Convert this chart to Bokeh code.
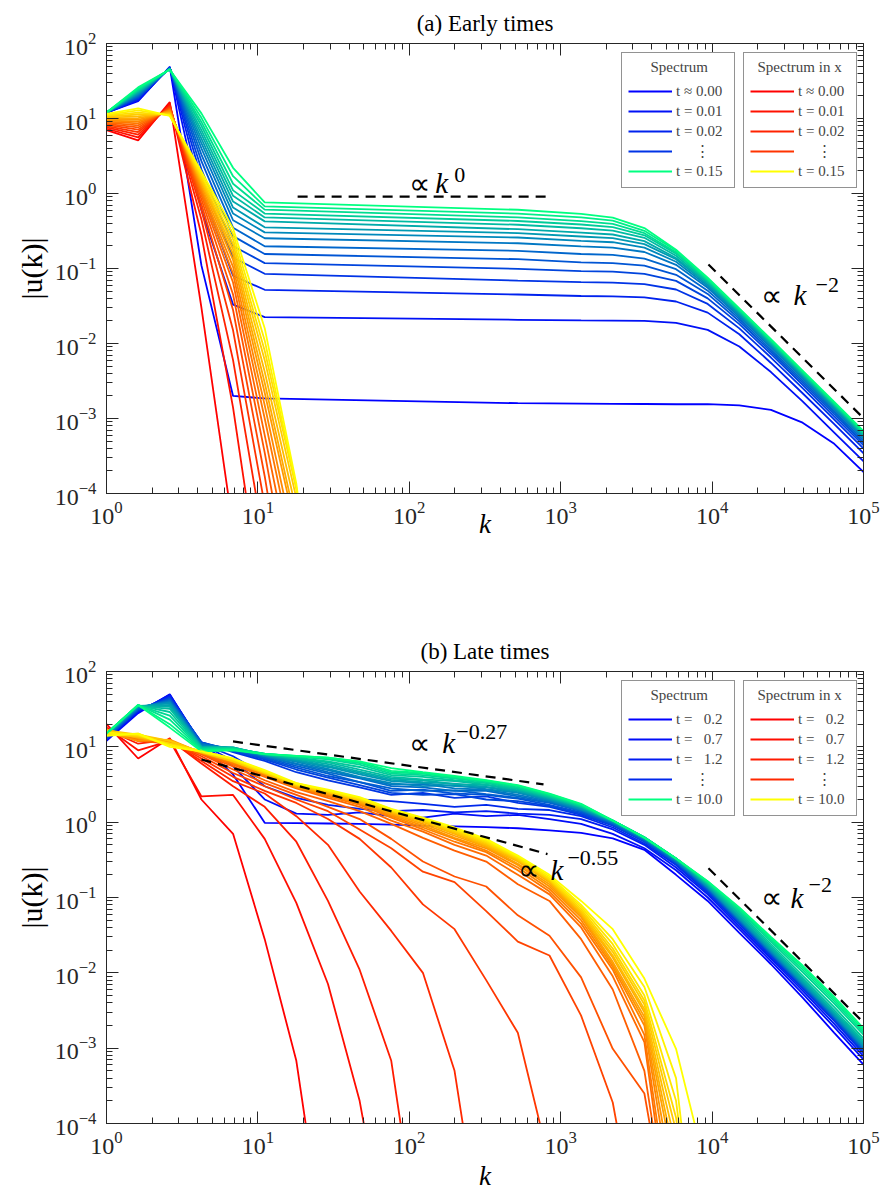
from bokeh.plotting import figure
from bokeh.models import Range1d, LogAxis, FixedTicker, Legend, LegendItem, Label
from bokeh.layouts import column
from bokeh.embed import file_html
from bokeh.resources import INLINE

# ---------------- data ----------------
# shell wavenumbers k_n (golden-ratio spacing)
K = [1.0, 1.618, 2.618, 4.236, 6.854, 11.09, 17.94, 29.03, 46.98, 76.01,
     123.0, 199.0, 322.0, 521.0, 843.0, 1364.0, 2207.0, 3571.0, 5778.0,
     9349.0, 15127.0, 24476.0, 39603.0, 64079.0, 103682.0]

# (a) early times, "Spectrum": values at shells A_BLUE_N, t = 0.00 ... 0.15
A_BLUE_N = [0, 1, 2, 3, 4, 5, 13, 15, 16, 17, 18, 19, 20, 21, 22, 23, 24]
A_BLUE = [
    [12, 17.0, 49.0, 0.11, 0.0020, 0.00185, 0.0016, 0.00158, 0.00157, 0.00156, 0.00155, 0.00155, 0.0015, 0.0013, 0.00088, 0.00046, 0.00018],
    [12, 17.5, 48.5, 0.6, 0.033, 0.0225, 0.0207, 0.0203, 0.0202, 0.0200, 0.0188, 0.0152, 0.0091, 0.00416, 0.00169, 0.00065, 0.00025],
    [12, 18.0, 48.0, 1.1, 0.08, 0.052, 0.045, 0.043, 0.0426, 0.0413, 0.0363, 0.0258, 0.0133, 0.0055, 0.00217, 0.00084, 0.00032],
    [12, 18.5, 47.7, 1.6, 0.14, 0.085, 0.069, 0.066, 0.065, 0.062, 0.0525, 0.0337, 0.0159, 0.0065, 0.00254, 0.00097, 0.00037],
    [12, 19.0, 47.4, 2.1, 0.20, 0.118, 0.099, 0.092, 0.091, 0.085, 0.0684, 0.0400, 0.0181, 0.00725, 0.00281, 0.00107, 0.00041],
    [12, 19.5, 47.1, 2.7, 0.27, 0.156, 0.133, 0.121, 0.118, 0.109, 0.0824, 0.0458, 0.0198, 0.0078, 0.00302, 0.00115, 0.00044],
    [12, 20.0, 46.8, 3.3, 0.35, 0.198, 0.172, 0.156, 0.152, 0.135, 0.098, 0.0506, 0.0213, 0.0083, 0.00322, 0.00123, 0.00047],
    [12, 20.6, 46.5, 4.0, 0.44, 0.253, 0.217, 0.197, 0.190, 0.166, 0.112, 0.0554, 0.0226, 0.0089, 0.00343, 0.00131, 0.00050],
    [12, 21.2, 46.2, 4.7, 0.54, 0.303, 0.259, 0.234, 0.224, 0.190, 0.123, 0.0583, 0.0238, 0.0093, 0.00356, 0.00136, 0.00052],
    [12, 21.8, 46.0, 5.4, 0.65, 0.354, 0.296, 0.267, 0.254, 0.211, 0.133, 0.0612, 0.0250, 0.0096, 0.00370, 0.00141, 0.00054],
    [12, 22.4, 45.8, 6.2, 0.78, 0.425, 0.334, 0.301, 0.284, 0.232, 0.138, 0.0645, 0.0260, 0.0100, 0.00384, 0.00147, 0.00056],
    [12, 23.0, 45.6, 7.0, 0.93, 0.480, 0.383, 0.344, 0.320, 0.257, 0.148, 0.0666, 0.0267, 0.0103, 0.00394, 0.00151, 0.000575],
    [12, 23.7, 45.4, 8.0, 1.10, 0.540, 0.430, 0.386, 0.356, 0.277, 0.158, 0.0689, 0.0273, 0.0106, 0.00404, 0.00154, 0.00059],
    [12, 24.4, 45.2, 9.0, 1.35, 0.610, 0.480, 0.429, 0.393, 0.296, 0.164, 0.0707, 0.0279, 0.01085, 0.00415, 0.00158, 0.000605],
    [12, 25.1, 45.0, 10.2, 1.70, 0.675, 0.540, 0.480, 0.435, 0.318, 0.174, 0.0730, 0.0288, 0.0111, 0.00425, 0.00162, 0.00062],
    [12, 26.0, 44.8, 11.7, 2.20, 0.760, 0.607, 0.536, 0.477, 0.346, 0.178, 0.0753, 0.0294, 0.0114, 0.00435, 0.00166, 0.000635],
]
# (a) early times, "Spectrum in x": values at shells 0,1,2,... t = 0.00 ... 0.15
A_RED = [
    [7.0, 5.1, 16.5, 0.03, 3.4e-5],
    [7.3, 5.6, 15.6, 0.28, 1.4e-3, 2e-6],
    [7.6, 6.1, 15.0, 0.45, 0.006, 2e-5],
    [7.9, 6.6, 14.5, 0.60, 0.015, 7e-5],
    [8.2, 7.1, 14.0, 0.72, 0.028, 1.7e-4, 5e-7],
    [8.5, 7.6, 13.6, 0.84, 0.045, 3.5e-4, 1.7e-6],
    [8.8, 8.1, 13.3, 0.95, 0.065, 6e-4, 5e-6],
    [9.1, 8.6, 13.0, 1.05, 0.085, 1e-3, 1e-5],
    [9.4, 9.1, 12.7, 1.15, 0.105, 1.5e-3, 1.6e-5],
    [9.7, 9.6, 12.4, 1.25, 0.13, 2.2e-3, 3e-5],
    [10.0, 10.1, 12.1, 1.35, 0.155, 3e-3, 3.9e-5],
    [10.3, 10.7, 11.8, 1.45, 0.18, 4.2e-3, 5.9e-5],
    [10.6, 11.3, 11.5, 1.55, 0.21, 6e-3, 8.7e-5],
    [10.9, 12.0, 11.2, 1.68, 0.245, 8e-3, 1.15e-4, 1e-7],
    [11.2, 12.8, 11.0, 1.80, 0.29, 0.011, 1.2e-4, 1e-7],
    [11.5, 13.6, 10.8, 1.96, 0.34, 0.016, 1.35e-4, 1e-7],
]
# (b) late times, "Spectrum": all shells, t = 0.2 ... 10.0
B_BLUE = [
    [12, 28, 50, 10.5, 4.3, 0.98, 0.97, 0.96, 0.95, 0.93, 0.90, 0.88, 0.86, 0.83, 0.78, 0.72, 0.61, 0.43, 0.20, 0.090, 0.034, 0.013, 0.0047, 0.0016, 0.00056],
    [12.5, 29, 49, 11, 5.5, 2.0, 1.3, 1.25, 1.35, 1.2, 1.15, 1.3, 1.2, 1.25, 1.1, 0.95, 0.70, 0.45, 0.23, 0.10, 0.038, 0.0143, 0.0053, 0.0019, 0.00065],
    [12.5, 29.5, 48, 11, 6.5, 3.0, 2.1, 1.7, 1.5, 1.4, 1.45, 1.35, 1.4, 1.3, 1.25, 1.1, 0.80, 0.50, 0.25, 0.11, 0.041, 0.0155, 0.0058, 0.0021, 0.00072],
    [13, 30, 47, 11, 7.5, 4.2, 2.9, 2.3, 2.0, 1.9, 1.75, 1.6, 1.7, 1.5, 1.45, 1.2, 0.85, 0.52, 0.27, 0.115, 0.044, 0.0165, 0.0062, 0.0023, 0.00078],
    [13, 31, 45, 11.5, 8.5, 6.5, 4.6, 3.6, 2.9, 2.3, 2.45, 2.1, 2.2, 1.8, 1.6, 1.25, 0.90, 0.55, 0.28, 0.12, 0.046, 0.0172, 0.0064, 0.0024, 0.00082],
    [13, 31, 44, 11.5, 8.8, 6.8, 5.0, 3.9, 3.1, 2.45, 2.3, 2.35, 2.0, 1.9, 1.65, 1.3, 0.92, 0.56, 0.29, 0.125, 0.047, 0.0176, 0.0066, 0.0025, 0.00085],
    [13.5, 32, 43, 11.5, 9.0, 7.0, 5.3, 4.1, 3.4, 2.6, 2.7, 2.4, 2.3, 2.05, 1.7, 1.35, 0.94, 0.57, 0.29, 0.127, 0.048, 0.018, 0.0067, 0.0025, 0.00088],
    [13.5, 32, 42, 11, 9.2, 7.2, 5.6, 4.4, 3.4, 2.8, 2.6, 2.65, 2.35, 2.1, 1.8, 1.4, 0.96, 0.58, 0.30, 0.13, 0.049, 0.0183, 0.0068, 0.0026, 0.0009],
    [14, 33, 41, 11, 9.4, 7.4, 5.9, 4.6, 3.8, 3.0, 2.9, 2.6, 2.6, 2.2, 1.85, 1.42, 0.98, 0.59, 0.30, 0.132, 0.050, 0.0186, 0.0070, 0.0026, 0.00092],
    [14, 33, 40, 10.5, 9.5, 7.5, 6.0, 4.9, 3.9, 3.15, 3.2, 2.8, 2.7, 2.3, 1.9, 1.45, 1.0, 0.60, 0.31, 0.135, 0.051, 0.019, 0.0071, 0.0027, 0.00095],
    [14, 34, 39, 10.5, 9.6, 7.6, 6.3, 5.1, 4.0, 3.3, 3.0, 3.1, 2.75, 2.45, 1.95, 1.48, 1.0, 0.60, 0.31, 0.137, 0.052, 0.0194, 0.0073, 0.0027, 0.00097],
    [14.5, 34, 38, 10, 9.7, 7.7, 6.5, 5.4, 4.3, 3.5, 3.3, 3.0, 2.9, 2.5, 2.0, 1.5, 1.02, 0.61, 0.32, 0.14, 0.053, 0.0198, 0.0074, 0.0028, 0.0010],
    [14.5, 35, 36, 10, 9.8, 7.8, 6.7, 5.6, 4.5, 3.65, 3.4, 3.25, 2.95, 2.6, 2.05, 1.55, 1.03, 0.62, 0.32, 0.143, 0.055, 0.0205, 0.0077, 0.0029, 0.00104],
    [14.5, 35, 34, 10, 9.8, 7.9, 6.9, 5.9, 4.7, 3.8, 3.6, 3.2, 3.1, 2.65, 2.1, 1.58, 1.04, 0.62, 0.33, 0.147, 0.057, 0.0213, 0.0080, 0.0030, 0.0011],
    [15, 35, 32, 9.8, 9.7, 8.0, 7.0, 6.2, 5.0, 4.0, 3.7, 3.5, 3.15, 2.75, 2.15, 1.6, 1.05, 0.63, 0.33, 0.15, 0.060, 0.0225, 0.0085, 0.0032, 0.00116],
    [15, 35.5, 29, 9.6, 9.6, 8.0, 7.2, 6.4, 5.4, 4.2, 4.0, 3.6, 3.3, 2.8, 2.2, 1.63, 1.05, 0.63, 0.33, 0.153, 0.063, 0.024, 0.0092, 0.0035, 0.00125],
    [15, 35.5, 26, 9.4, 9.5, 8.1, 7.4, 6.8, 5.8, 4.4, 4.2, 3.8, 3.4, 2.9, 2.25, 1.66, 1.05, 0.63, 0.33, 0.157, 0.066, 0.026, 0.0102, 0.0039, 0.0014],
    [15, 36, 23, 9.2, 9.3, 8.1, 7.5, 7.0, 6.1, 4.6, 4.4, 3.9, 3.5, 3.0, 2.3, 1.7, 1.05, 0.63, 0.33, 0.16, 0.069, 0.0275, 0.011, 0.0042, 0.0015],
    [15, 36, 20, 9.0, 9.2, 8.0, 7.6, 7.2, 6.3, 4.8, 4.5, 4.0, 3.55, 3.05, 2.35, 1.72, 1.05, 0.62, 0.33, 0.163, 0.072, 0.029, 0.0118, 0.0045, 0.0016],
    [15, 36, 18, 8.7, 9.0, 8.0, 7.6, 7.2, 6.4, 5.2, 4.6, 4.1, 3.6, 3.1, 2.4, 1.75, 1.05, 0.62, 0.33, 0.165, 0.074, 0.030, 0.0125, 0.0048, 0.0017],
]
# (b) late times, "Spectrum in x": values at shells 0,1,2,... t = 0.2 ... 10.0
B_RED = [
    [20, 7, 13, 2.0, 0.7, 0.028, 6.8e-4, 1e-6],
    [18, 9, 12, 2.2, 2.3, 0.6, 0.085, 7.1e-3, 2.0e-4, 1e-6],
    [17, 11, 12.5, 6, 3, 1.6, 0.55, 0.09, 0.011, 6.8e-4, 1e-6],
    [17, 12, 12, 6.5, 3.5, 2.4, 1.2, 0.5, 0.12, 0.036, 0.01, 5e-4, 1e-6],
    [16, 12.5, 12, 7, 4, 2.6, 1.8, 1.1, 0.6, 0.25, 0.081, 0.038, 8e-3, 1.6e-3, 3e-5],
    [16, 13, 11.5, 7.5, 4.5, 3.0, 2.0, 1.4, 0.8, 0.45, 0.22, 0.16, 0.066, 0.026, 0.017, 2.7e-3, 1.9e-4, 1e-6],
    [16, 13, 11.5, 8, 5, 3.3, 2.3, 1.6, 1.1, 0.6, 0.3, 0.19, 0.14, 0.058, 0.031, 8.7e-3, 9.8e-4, 2.5e-4, 1e-6],
    [17, 12, 11, 8, 5.5, 3.6, 2.5, 1.9, 1.4, 0.95, 0.62, 0.42, 0.3, 0.15, 0.09, 0.028, 6e-3, 5e-4, 1e-6],
    [16, 13, 11.5, 8.2, 5.8, 4.0, 2.8, 2.1, 1.6, 1.05, 0.75, 0.5, 0.36, 0.2, 0.11, 0.04, 9e-3, 1.2e-3, 1e-6],
    [17, 12.5, 12, 8.4, 6.0, 4.2, 2.9, 2.2, 1.7, 1.15, 0.8, 0.55, 0.4, 0.23, 0.12, 0.045, 0.011, 1.5e-3, 2e-6],
    [16.5, 13.5, 11, 8.5, 6.2, 4.3, 3.0, 2.3, 1.75, 1.2, 0.85, 0.6, 0.42, 0.25, 0.13, 0.05, 0.012, 2e-3, 5e-6],
    [15.5, 12, 12.5, 8.3, 6.3, 4.4, 2.9, 2.35, 1.8, 1.25, 0.9, 0.62, 0.45, 0.27, 0.14, 0.055, 0.013, 2.3e-3, 1e-5],
    [17, 13, 11.5, 8.6, 6.4, 4.5, 3.1, 2.4, 1.85, 1.3, 0.95, 0.66, 0.47, 0.28, 0.15, 0.058, 0.014, 2.6e-3, 2e-5],
    [16, 14, 12, 8.4, 6.5, 4.4, 3.0, 2.45, 1.9, 1.33, 1.0, 0.7, 0.48, 0.3, 0.16, 0.06, 0.016, 3e-3, 3e-5],
    [15, 13.5, 11, 8.7, 6.6, 4.6, 3.2, 2.5, 1.95, 1.36, 1.02, 0.72, 0.5, 0.31, 0.165, 0.063, 0.017, 3.3e-3, 5e-5],
    [16.5, 14.5, 12, 8.5, 6.4, 4.5, 3.1, 2.5, 2.0, 1.4, 1.05, 0.75, 0.52, 0.32, 0.17, 0.066, 0.019, 3.8e-3, 8e-5],
    [15, 14, 11, 8.8, 6.7, 4.7, 3.2, 2.55, 2.0, 1.42, 1.08, 0.78, 0.54, 0.33, 0.175, 0.07, 0.021, 4.3e-3, 1.2e-4, 1e-7],
    [14.5, 15, 10.5, 8.6, 6.8, 4.6, 3.3, 2.6, 2.05, 1.45, 1.1, 0.8, 0.56, 0.34, 0.18, 0.075, 0.024, 5e-3, 2e-4, 1e-7],
    [15.5, 14.5, 10.5, 8.9, 6.9, 4.8, 3.2, 2.65, 2.1, 1.48, 1.12, 0.82, 0.58, 0.35, 0.19, 0.08, 0.028, 6.5e-3, 4e-4, 1e-7],
    [14, 15, 10, 8.7, 7.0, 4.9, 3.3, 2.7, 2.15, 1.5, 1.15, 0.85, 0.6, 0.36, 0.2, 0.09, 0.038, 8.4e-3, 9.8e-4, 2e-5],
]

# reference slopes (dashed): (k endpoints, |u| endpoints)
A_DASH = [([18.3, 843.0], [0.91, 0.91]), ([9460.0, 100000.0], [0.113, 0.00101])]
B_DASH = [([6.85, 770.0], [11.8, 3.18]), ([4.24, 818.0], [6.8, 0.377]),
          ([9460.0, 100000.0], [0.245, 0.00219])]

ELL = "\u00a0\u00a0\u00a0\u00a0\u00a0\u22ee"
A_LEG = ["t \u2248 0.00", "t = 0.01", "t = 0.02", ELL, "t = 0.15"]
B_LEG = ["t = \u20070.2", "t = \u20070.7", "t = \u20071.2", ELL, "t = 10.0"]

X_TICKS = [1, 10, 100, 1000, 10000, 100000]
Y_TICKS = [1e-4, 1e-3, 1e-2, 1e-1, 1, 10, 100]

# ---------------- styling ----------------
FONT = "Liberation Serif"
AX = "#262626"
FRAME_W = 757
LEG_H = 140


def winter(c):
    return "#%02x%02x%02x" % (0, round(255 * c), round(255 * (1 - 0.5 * c)))


def autumn(c):
    return "#%02x%02x%02x" % (255, round(255 * c), 0)


def minors(lo, hi):
    return [m * 10.0 ** e for e in range(lo, hi) for m in range(2, 10)]


def style_axis(ax, ticks, minor, labels=True):
    ax.ticker = FixedTicker(ticks=ticks, minor_ticks=minor)
    ax.axis_line_color = AX
    ax.major_tick_line_color = AX
    ax.minor_tick_line_color = AX
    ax.major_tick_in = 12
    ax.major_tick_out = 0
    ax.minor_tick_in = 6
    ax.minor_tick_out = 0
    if labels:
        ax.major_label_text_font = FONT
        ax.major_label_text_font_size = "24px"
        ax.major_label_text_color = AX
    else:
        ax.major_label_overrides = {t: "" for t in ticks}
        ax.major_label_text_font_size = "2px"
        ax.major_label_text_alpha = 0.0
        ax.major_label_standoff = 0


def make_panel(title, height, frame_h, bottom, klabel_standoff, blue, blue_x, red, dashes, leg_labels, props):
    p = figure(width=106 + FRAME_W + 20, height=height,
               x_axis_type="log", y_axis_type="log",
               x_range=Range1d(1, 1e5), y_range=Range1d(1e-4, 1e2),
               output_backend="svg", toolbar_location=None,
               min_border_left=106, min_border_right=20,
               min_border_top=42, min_border_bottom=bottom)
    p.title.text = title
    p.title.align = "center"
    p.title.text_font = FONT
    p.title.text_font_size = "23px"
    p.title.text_font_style = "normal"
    p.title.text_color = "black"
    p.title.standoff = 16
    p.grid.visible = False
    p.outline_line_color = AX
    p.background_fill_color = "white"
    p.border_fill_color = "white"

    xa = p.below[0]
    ya = p.left[0]
    style_axis(xa, X_TICKS, minors(0, 5))
    style_axis(ya, Y_TICKS, minors(-4, 2))
    xa.axis_label = "k"
    xa.axis_label_text_font = FONT
    xa.axis_label_text_font_size = "27px"
    xa.axis_label_text_font_style = "italic"
    xa.axis_label_text_color = "black"
    xa.major_label_standoff = 8
    xa.axis_label_standoff = klabel_standoff
    ya.axis_label = "|u(k)|"
    ya.axis_label_text_font = FONT
    ya.axis_label_text_font_size = "30px"
    ya.axis_label_text_font_style = "normal"
    ya.axis_label_text_color = "black"
    ya.major_label_standoff = 10
    ya.axis_label_standoff = 4

    top = LogAxis()
    style_axis(top, X_TICKS, minors(0, 5), labels=False)
    p.add_layout(top, "above")
    right = LogAxis()
    style_axis(right, Y_TICKS, minors(-4, 2), labels=False)
    p.add_layout(right, "right")

    nb, nr = len(blue), len(red)
    rb, rr = [], []
    for i in range(max(nb, nr)):
        if i < nb:
            xs = [K[n] for n in blue_x] if blue_x else K[:len(blue[i])]
            rb.append(p.line(xs, blue[i], line_color=winter(i / (nb - 1)), line_width=1.8))
        if i < nr:
            rr.append(p.line(K[:len(red[i])], red[i], line_color=autumn(i / (nr - 1)), line_width=1.8))

    for kx, vy in dashes:
        p.line(kx, vy, line_color="black", line_width=2.2, line_dash="10 7")

    for (k0, v0, exp, dk, de, dy) in props:
        p.add_layout(Label(x=k0, y=v0, y_offset=11, text="\u221d", text_font=FONT, text_font_size="30px",
                           text_baseline="alphabetic", text_color="black"))
        p.add_layout(Label(x=k0, y=v0, x_offset=dk, y_offset=11, text="k", text_font=FONT,
                           text_font_size="29px", text_font_style="italic",
                           text_baseline="alphabetic", text_color="black"))
        p.add_layout(Label(x=k0, y=v0, x_offset=de, y_offset=11 + dy - 5, text=exp, text_font=FONT,
                           text_font_size="22px", text_baseline="alphabetic", text_color="black"))

    idx_b = [0, 1, 2, 3, nb - 1]
    idx_r = [0, 1, 2, 3, nr - 1]
    for lx, rends, idx, ttl in [(515, rb, idx_b, "\u00a0" * 6 + "Spectrum"),
                                (637, rr, idx_r, "\u00a0" * 2 + "Spectrum in x")]:
        leg = Legend(items=[LegendItem(label=leg_labels[j], renderers=[rends[i]]) for j, i in enumerate(idx)],
                     title=ttl, location=(lx, frame_h - 6 - LEG_H), orientation="vertical")
        leg.title_text_font = FONT
        leg.title_text_font_size = "15px"
        leg.title_text_font_style = "normal"
        leg.title_standoff = 5
        leg.label_text_font = FONT
        leg.label_text_font_size = "15px"
        leg.glyph_width = 44
        leg.glyph_height = 20
        leg.label_height = 20
        leg.label_width = 52
        leg.label_standoff = 4
        leg.spacing = 0
        leg.padding = 6
        leg.margin = 0
        leg.border_line_color = AX
        leg.border_line_width = 1
        leg.background_fill_alpha = 1.0
        p.add_layout(leg)
    return p


A_PROPS = [(100.0, 0.976, "0", 26, 45, 13),
           (20900.0, 0.0315, "\u22122", 33, 55, 15)]
B_PROPS = [(100.0, 7.96, "\u22120.27", 33, 47, 16),
           (526.0, 0.166, "\u22120.55", 32, 49, 17),
           (20900.0, 0.0705, "\u22122", 30, 48, 18)]

pa = make_panel("(a) Early times", 628, 451, 135, -18, A_BLUE, A_BLUE_N, A_RED, A_DASH, A_LEG, A_PROPS)
pb = make_panel("(b) Late times", 565, 453, 70, 4, B_BLUE, None, B_RED, B_DASH, B_LEG, B_PROPS)

layout = column(pa, pb)
open("out.html", "w").write(file_html(layout, INLINE))
